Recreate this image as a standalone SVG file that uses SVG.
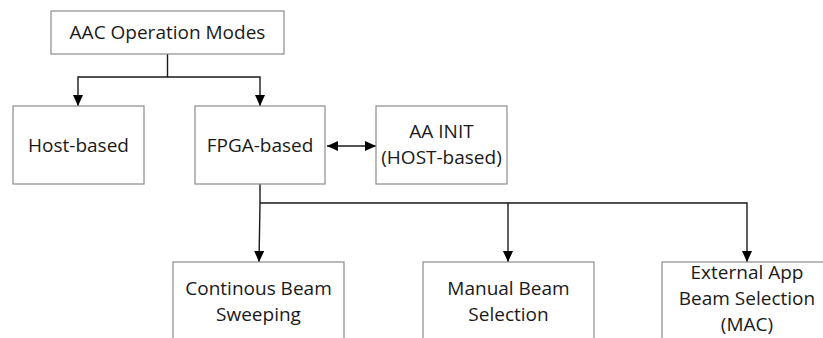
<svg xmlns="http://www.w3.org/2000/svg" width="823" height="338" viewBox="0 0 823 338">
  <defs>
    <style>
      .box { fill: #ffffff; stroke: #8c8c8c; stroke-width: 1.2; }
      .lbl { font-family: "Open Sans", "Liberation Sans", sans-serif; font-size: 19px; fill: #1a1a1a; text-anchor: middle; }
      .wire { fill: none; stroke: #1a1a1a; stroke-width: 1.4; }
    </style>
    <marker id="head" viewBox="0 0 11 10" refX="11" refY="5" markerWidth="11" markerHeight="10" markerUnits="userSpaceOnUse" orient="auto-start-reverse">
      <path d="M0,0 L11,5 L0,10 Z" fill="#000000"/>
    </marker>
  </defs>
  <rect width="823" height="338" fill="#ffffff"/>

  <!-- connectors -->
  <g id="connectors">
    <polyline class="wire" points="167.5,54 167.5,77 78,77 78,106" marker-end="url(#head)"/>
    <polyline class="wire" points="167.5,77 260,77 260,106" marker-end="url(#head)"/>
    <line class="wire" x1="327" y1="146" x2="376" y2="146" marker-start="url(#head)" marker-end="url(#head)"/>
    <polyline class="wire" points="260,184 260,203 259,262" marker-end="url(#head)"/>
    <polyline class="wire" points="260,203 508,203 508,262" marker-end="url(#head)"/>
    <polyline class="wire" points="508,203 747,203 747,262" marker-end="url(#head)"/>
  </g>

  <!-- nodes -->
  <g id="aac-modes">
    <rect class="box" x="51" y="11" width="233" height="43"/>
    <text class="lbl" x="167.5" y="39">AAC Operation Modes</text>
  </g>
  <g id="host-based">
    <rect class="box" x="13" y="106" width="131" height="78"/>
    <text class="lbl" x="78.5" y="152">Host-based</text>
  </g>
  <g id="fpga-based">
    <rect class="box" x="195" y="106" width="130" height="78"/>
    <text class="lbl" x="260" y="152">FPGA-based</text>
  </g>
  <g id="aa-init">
    <rect class="box" x="376" y="106" width="131" height="78"/>
    <text class="lbl" x="441.5" y="138">AA INIT</text>
    <text class="lbl" x="441.5" y="164">(HOST-based)</text>
  </g>
  <g id="continuous-sweep">
    <rect class="box" x="173" y="262" width="171" height="100"/>
    <text class="lbl" x="258.5" y="295">Continous Beam</text>
    <text class="lbl" x="258.5" y="321">Sweeping</text>
  </g>
  <g id="manual-select">
    <rect class="box" x="423" y="262" width="171" height="100"/>
    <text class="lbl" x="508.5" y="295">Manual Beam</text>
    <text class="lbl" x="508.5" y="321">Selection</text>
  </g>
  <g id="external-select">
    <rect class="box" x="662" y="262" width="171" height="100"/>
    <text class="lbl" x="747" y="279">External App</text>
    <text class="lbl" x="747" y="305">Beam Selection</text>
    <text class="lbl" x="747" y="331">(MAC)</text>
  </g>
</svg>
